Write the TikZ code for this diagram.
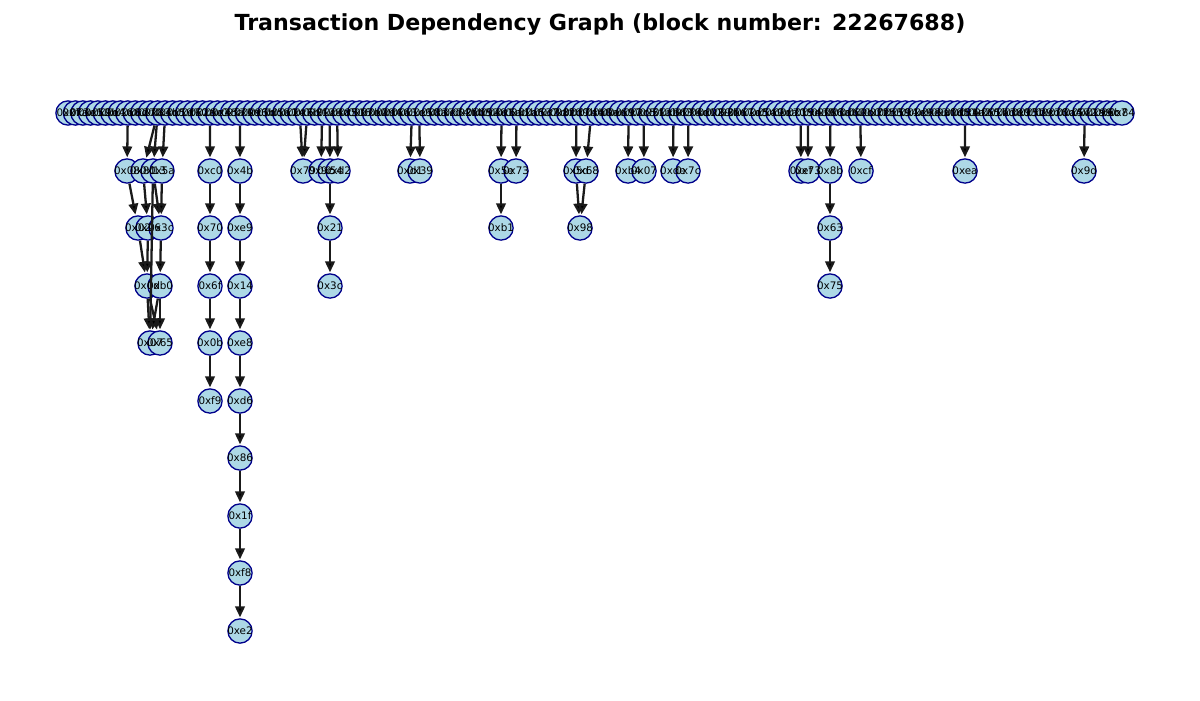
\documentclass[tikz,border=0pt]{standalone}
\usepackage{fontspec}
\setmainfont{DejaVu Sans}
\usetikzlibrary{arrows.meta}

\definecolor{txfill}{HTML}{ADD8E6}
\definecolor{txborder}{HTML}{00008B}
\definecolor{depline}{HTML}{1A1A1A}

\def\toprow{0x0f,0x7a,0x3e,0xc1,0x52,0x9b,0xe4,0x16,0xa8,0x6d,0x27,0xf0,0x83,0x4c,0xb5,0x19,0xd7,0x60,0x2a,0x8e,
0xc3,0x45,0xfa,0x71,0x0e,0x96,0x3b,0xdc,0x58,0xa1,0x24,0xe7,0x6b,0x9f,0x12,0xc8,0x4d,0x85,0x31,0xf6,
0x7e,0xb2,0x09,0xd4,0x66,0xa3,0x1c,0xe9,0x50,0x8a,0x37,0xcd,0x74,0x2f,0xbb,0x05,0x92,0x48,0xe1,0x6a,
0xfd,0x1b,0xa6,0x53,0xc7,0x3d,0x8f,0x20,0xd9,0x7b,0x44,0xb8,0x0a,0xee,0x61,0x97,0x2c,0xc5,0x5f,0x13,
0xab,0x36,0xf3,0x78,0x4e,0xd1,0x02,0x89,0x3f,0xbe,0x67,0x1d,0xe5,0x54,0xa9,0x2e,0xca,0x70,0x15,0x9d,
0x43,0xf8,0x86,0x3a,0xdb,0x62,0x0c,0xb0,0x7f,0x25,0xe3,0x59,0x94,0x1e,0xc9,0x6e,0x33,0xaf,0x08,0xd5,
0x81,0x4a,0xf2,0x65,0x17,0xbd,0x38,0xe0,0x93,0x5b,0x29,0xcc,0x76,0x0d,0xa4,0x57,0xc2,0x1a,0x99,0x6c,0xb7,0x84}

% name/x/y/label of the dependent transactions
\def\deprows{a1/127/171/0x08, a2/143/171/0x81, a3/153/171/0x13, a4/162/171/0x5a,
b1/138/228/0x02, b2/148/228/0x26, b3/161/228/0x3c,
c1/147/286/0x0d, c2/160/286/0xb0,
d1/150/343/0x07, d2/160/343/0x65,
k1/210/171/0xc0, k2/210/228/0x70, k3/210/286/0x6f, k4/210/343/0x0b, k5/210/401/0xf9,
m1/240/171/0x4b, m2/240/228/0xe9, m3/240/286/0x14, m4/240/343/0xe8, m5/240/401/0xd6,
m6/240/458/0x86, m7/240/516/0x1f, m8/240/573/0xf8, m9/240/631/0xe2,
p1/303/171/0x79, p2/321/171/0x9c, p3/330/171/0x54, p4/338/171/0xd2, p5/330/228/0x21, p6/330/286/0x3c,
q1/410/171/0xd1, q2/420/171/0x39,
r1/501/171/0x5e, r2/516/171/0x73, r3/501/228/0xb1,
s1/576/171/0x5d, s2/586/171/0x68, s3/580/228/0x98,
u1/628/171/0xb4, u2/644/171/0x07,
v1/673/171/0xde, v2/688/171/0x7c,
w1/801/171/0xef, w2/808/171/0x73, w3/830/171/0x8b, w4/830/228/0x63, w5/830/286/0x75, w6/861/171/0xcf,
x1/965/171/0xea,
y1/1084/171/0x9d}

\begin{document}
\begin{tikzpicture}[
    x=0.02cm, y=-0.02cm,
    -{Triangle[length=6.2pt,width=5.4pt]},
    shorten >=0.5pt,
    line width=1.3pt,
    tx node/.style={circle,fill=txfill,draw=txborder,line width=0.75pt,minimum size=13.8pt,inner sep=0pt},
    tx label/.style={inner sep=0pt,font=\fontsize{5.9}{6}\selectfont},
    dep/.style={draw=depline}]

  \useasboundingbox (0,0) rectangle (1200,700);
  \node[font=\fontsize{12.6}{15}\selectfont\bfseries] (title) at (600,24)
    {Transaction Dependency Graph (block number: 22267688)};

  % transactions of the block
  \foreach \lbl [count=\i from 0] in \toprow
    \node[tx node] (t\i) at ({68+\i*7.475},113) {};
  \foreach \nm/\px/\py/\lbl in \deprows
    \node[tx node] (\nm) at (\px,\py) {};

  % labels on top of all circles
  \foreach \lbl [count=\i from 0] in \toprow
    \node[tx label] (l\i) at (t\i) {\lbl};
  \foreach \nm/\px/\py/\lbl in \deprows
    \node[tx label] (l\nm) at (\nm) {\lbl};

  \path[dep]
    (t8) edge (a1)
    (t12) edge (a2) edge (a3)
    (t13) edge (a4)
    (a1) edge (b1)
    (a2) edge (b2)
    (a3) edge (b3) edge (d1)
    (a4) edge (b3)
    (b1) edge (c1)
    (b2) edge (c1)
    (b3) edge (c2)
    (c1) edge (d1) edge (d2)
    (c2) edge (d1) edge (d2)
    (t19) edge (k1)
    (k1) edge (k2)
    (k2) edge (k3)
    (k3) edge (k4)
    (k4) edge (k5)
    (t23) edge (m1)
    (m1) edge (m2)
    (m2) edge (m3)
    (m3) edge (m4)
    (m4) edge (m5)
    (m5) edge (m6)
    (m6) edge (m7)
    (m7) edge (m8)
    (m8) edge (m9)
    (t31) edge (p1)
    (t32) edge (p1)
    (t34) edge (p2)
    (t35) edge (p3)
    (t36) edge (p4)
    (p3) edge (p5)
    (p5) edge (p6)
    (t46) edge (q1)
    (t47) edge (q2)
    (t58) edge (r1)
    (t60) edge (r2)
    (r1) edge (r3)
    (t68) edge (s1)
    (t70) edge (s2)
    (s1) edge (s3)
    (s2) edge (s3)
    (t75) edge (u1)
    (t77) edge (u2)
    (t81) edge (v1)
    (t83) edge (v2)
    (t98) edge (w1)
    (t99) edge (w2)
    (t102) edge (w3)
    (w3) edge (w4)
    (w4) edge (w5)
    (t106) edge (w6)
    (t120) edge (x1)
    (t136) edge (y1);
\end{tikzpicture}
\end{document}
